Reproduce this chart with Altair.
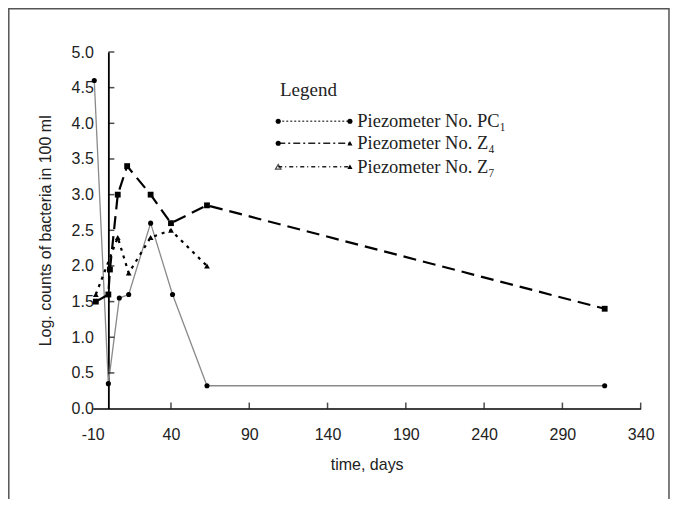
import altair as alt
import pandas as pd

# ---- data ----
pc1_days = [-9, 0, 7, 13, 27, 41, 63, 317]
pc1_vals = [4.6, 0.35, 1.55, 1.6, 2.6, 1.6, 0.32, 0.32]
z4_days = [-8, 0, 1, 6, 12, 27, 40, 63, 317]
z4_vals = [1.5, 1.6, 1.95, 3.0, 3.4, 3.0, 2.6, 2.85, 1.4]
z7_days = [-8, 6, 13, 27, 40, 63]
z7_vals = [1.6, 2.4, 1.9, 2.4, 2.5, 2.0]

x_tick_values = [-10, 40, 90, 140, 190, 240, 290, 340]
y_tick_values = [0.0, 0.5, 1.0, 1.5, 2.0, 2.5, 3.0, 3.5, 4.0, 4.5, 5.0]

legend_title = "Legend"
legend_labels = ["Piezometer No. PC\u2081", "Piezometer No. Z\u2084", "Piezometer No. Z\u2087"]

# ---- layout ----
W, H = 548, 356.6
X_DOMAIN = [-10, 340]
Y_DOMAIN = [0, 5]
y_axis_shift = -W * 10 / 350  # y axis sits at day 0

x_enc = alt.X("day:Q",
              scale=alt.Scale(domain=X_DOMAIN, nice=False, zero=False),
              axis=alt.Axis(values=x_tick_values, tickSize=0, labelPadding=18,
                            labelExpr="toString(datum.value)",
                            labelFontSize=16, labelFont="Liberation Sans", labelColor="#222",
                            title="time, days", titleFont="Liberation Sans",
                            titleFontSize=16, titleFontWeight="normal", titleColor="#222",
                            titlePadding=14, grid=False, domainColor="black",
                            domainWidth=1.5, labelFlush=False))
y_enc = alt.Y("val:Q",
              scale=alt.Scale(domain=Y_DOMAIN, nice=False),
              axis=alt.Axis(values=y_tick_values, format=".1f", tickSize=0,
                            offset=y_axis_shift, labelPadding=15,
                            labelFontSize=16, labelFont="Liberation Sans", labelColor="#222",
                            title="Log. counts of bacteria in 100 ml",
                            titleFont="Liberation Sans", titleFontSize=16,
                            titleFontWeight="normal", titleColor="#222",
                            titlePadding=18, grid=False, domainColor="black",
                            domainWidth=1.8, labelFlush=False))

pc1 = pd.DataFrame({"day": pc1_days, "val": pc1_vals})
z4 = pd.DataFrame({"day": z4_days, "val": z4_vals})
z7 = pd.DataFrame({"day": z7_days, "val": z7_vals})

frame = alt.Chart(pd.DataFrame({"a": [0]})).mark_rect(
    filled=False, stroke="#555", strokeWidth=1.5
).encode(x=alt.value(-83.9), x2=alt.value(576.3), y=alt.value(-43.2), y2=alt.value(480))

xt = pd.DataFrame({"day": x_tick_values[1:], "val": [0] * (len(x_tick_values) - 1)})
yt = pd.DataFrame({"day": [0] * (len(y_tick_values) - 1), "val": y_tick_values[1:]})
x_ticks = alt.Chart(xt).mark_tick(orient="vertical", size=6, thickness=1.5,
                                  color="black", yOffset=-3).encode(x=x_enc, y=y_enc)
y_ticks = alt.Chart(yt).mark_tick(orient="horizontal", size=6, thickness=1.5,
                                  color="black", xOffset=3).encode(x=x_enc, y=y_enc)

pc1_line = alt.Chart(pc1).mark_line(color="#8a8a8a", strokeWidth=1.3).encode(x=x_enc, y=y_enc)
pc1_pts = alt.Chart(pc1).mark_point(shape="circle", filled=True, size=26,
                                    color="black", opacity=1).encode(x=x_enc, y=y_enc)
z4_line = alt.Chart(z4).mark_line(color="black", strokeWidth=2.2,
                                  strokeDash=[13, 7]).encode(x=x_enc, y=y_enc)
z4_pts = alt.Chart(z4).mark_point(shape="square", filled=True, size=34,
                                  color="black", opacity=1).encode(x=x_enc, y=y_enc)
z7_line = alt.Chart(z7).mark_line(color="black", strokeWidth=2.2,
                                  strokeDash=[3, 5]).encode(x=x_enc, y=y_enc)
z7_pts = alt.Chart(z7).mark_point(shape="triangle-up", filled=True, size=34,
                                  color="black", opacity=1).encode(x=x_enc, y=y_enc)

# ---- legend drawn inside the plot ----
leg_rows = [4.03, 3.72, 3.39]
leg_x0, leg_x1, leg_tx = 108.5, 154.3, 159

leg_title = alt.Chart(pd.DataFrame({"day": [109.6], "val": [4.47], "t": [legend_title]})).mark_text(
    align="left", baseline="middle", font="Liberation Serif", fontSize=19, color="#222"
).encode(x=x_enc, y=y_enc, text="t:N")

leg_text = alt.Chart(pd.DataFrame({"day": [leg_tx] * 3, "val": leg_rows, "t": legend_labels})).mark_text(
    align="left", baseline="middle", font="Liberation Serif", fontSize=18.5, color="#222"
).encode(x=x_enc, y=y_enc, text="t:N")

def seg(row, dash, color, width):
    d = pd.DataFrame({"day": [leg_x0, leg_x1], "val": [row, row]})
    return alt.Chart(d).mark_line(color=color, strokeWidth=width, strokeDash=dash).encode(x=x_enc, y=y_enc)

leg_l1 = seg(leg_rows[0], [2, 2], "#555", 1.5)
leg_l2 = seg(leg_rows[1], [7, 3, 2, 3], "#222", 1.6)
leg_l3 = seg(leg_rows[2], [4, 3, 1, 3], "#222", 1.6)

leg_marks = pd.DataFrame({
    "day": [leg_x0, leg_x1, leg_x0, leg_x1, leg_x1],
    "val": [leg_rows[0], leg_rows[0], leg_rows[1], leg_rows[1], leg_rows[2]],
    "shape": ["circle", "circle", "circle", "triangle-up", "triangle-up"],
})
leg_pts = alt.Chart(leg_marks).mark_point(filled=True, size=26, color="black", opacity=1).encode(
    x=x_enc, y=y_enc, shape=alt.Shape("shape:N", scale=None))
leg_open = alt.Chart(pd.DataFrame({"day": [leg_x0], "val": [leg_rows[2]]})).mark_point(
    shape="triangle-up", filled=False, size=30, color="black", strokeWidth=1.3
).encode(x=x_enc, y=y_enc)

chart = alt.layer(
    frame, pc1_line, z4_line, z7_line, pc1_pts, z4_pts, z7_pts, x_ticks, y_ticks,
    leg_title, leg_text, leg_l1, leg_l2, leg_l3, leg_pts, leg_open
).properties(
    width=W, height=H,
    autosize=alt.AutoSizeParams(type="none"),
    padding={"left": 84.7, "top": 44, "right": 29, "bottom": 90},
    background="white",
).configure_view(strokeWidth=0)

chart.save("out.html", embed_options={"renderer": "svg", "actions": False})
